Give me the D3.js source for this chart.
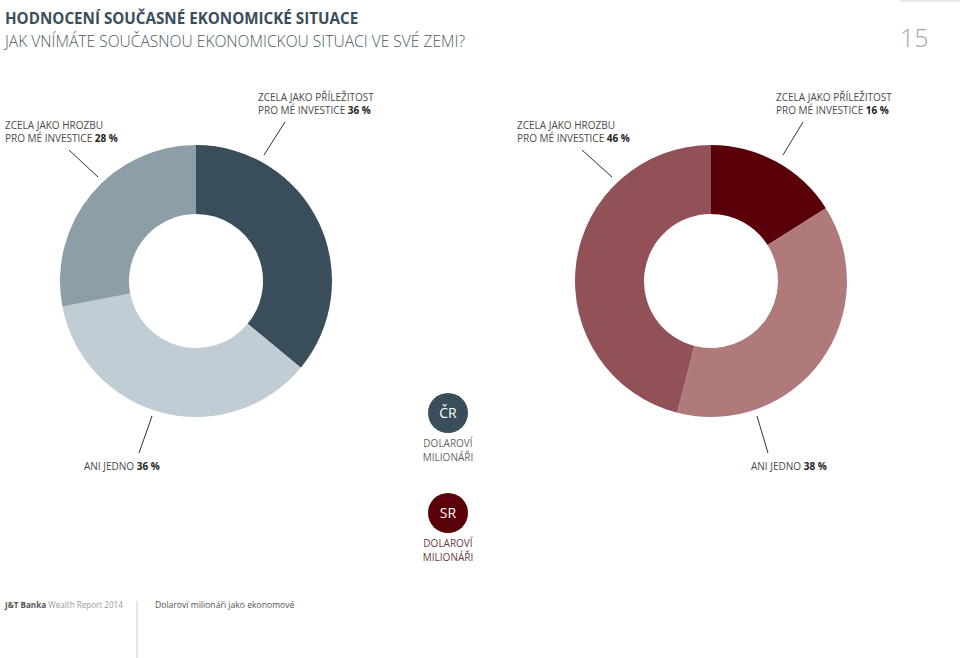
<!DOCTYPE html>
<html><head><meta charset="utf-8">
<script src="https://cdn.jsdelivr.net/npm/d3@7"></script>
<style>body{margin:0;background:#fff}svg{display:block}text{font-family:"Open Sans",sans-serif}</style>
</head><body><svg id="c" width="960" height="658"></svg>
<script>
const categories = ["ZCELA JAKO PŘÍLEŽITOST PRO MÉ INVESTICE", "ANI JEDNO", "ZCELA JAKO HROZBU PRO MÉ INVESTICE"];
const valuesCR = [36, 36, 28];
const valuesSR = [16, 38, 46];
const colorsCR = ["#3a4d5a", "#c0cdd5", "#8c9ea8"];
const colorsSR = ["#5a0009", "#b07a7a", "#925057"];

const svg = d3.select("#c");
svg.append("text").attr("x",5).attr("y",24).attr("font-size",15.2).attr("font-weight",700).attr("fill","#3a4d5a").text("HODNOCENÍ SOUČASNÉ EKONOMICKÉ SITUACE");
svg.append("text").attr("x",5).attr("y",47).attr("font-size",15.6).attr("font-weight",300).attr("fill","#4a5a66").text("JAK VNÍMÁTE SOUČASNOU EKONOMICKOU SITUACI VE SVÉ ZEMI?");
svg.append("line").attr("x1",900).attr("x2",960).attr("y1",1).attr("y2",1).attr("stroke","#ccc");
svg.append("text").attr("x",900).attr("y",47).attr("font-size",25).attr("font-weight",300).attr("fill","#9aa8b0").text("15");

const pie = d3.pie().sort(null).value(d=>d);
const arc = d3.arc().innerRadius(67).outerRadius(136);
function donut(cx, vals, cols){
  const g = svg.append("g").attr("transform",`translate(${cx},281)`);
  g.selectAll("path").data(pie(vals)).join("path").attr("d",arc).attr("fill",(d,i)=>cols[i]);
}
donut(196, valuesCR, colorsCR);
donut(711, valuesSR, colorsSR);

function label(x, y, lines, val, lx1, ly1, lx2, ly2){
  lines.forEach((l,i)=>{
    const t = svg.append("text").attr("x",x).attr("y",y+i*13).attr("font-size",10).attr("fill","#4a4a4a").text(l);
    if(i===lines.length-1) t.append("tspan").attr("font-weight",700).attr("fill","#222").text(" "+val+" %");
  });
  svg.append("line").attr("x1",lx1).attr("y1",ly1).attr("x2",lx2).attr("y2",ly2).attr("stroke","#333").attr("stroke-width",1);
}
label(258,101,["ZCELA JAKO PŘÍLEŽITOST","PRO MÉ INVESTICE"],valuesCR[0],285,122,264,155);
label(5,129,["ZCELA JAKO HROZBU","PRO MÉ INVESTICE"],valuesCR[2],69,150,98,177);
label(84,470,["ANI JEDNO"],valuesCR[1],152,416,139,453);
label(776,101,["ZCELA JAKO PŘÍLEŽITOST","PRO MÉ INVESTICE"],valuesSR[0],803,122,783,155);
label(517,129,["ZCELA JAKO HROZBU","PRO MÉ INVESTICE"],valuesSR[2],582,150,612,177);
label(751,470,["ANI JEDNO"],valuesSR[1],757,416,768,453);

function badge(cy, txt, col, tcol){
  svg.append("circle").attr("cx",448).attr("cy",cy).attr("r",20).attr("fill",col);
  svg.append("text").attr("x",448).attr("y",cy+5).attr("text-anchor","middle").attr("font-size",14).attr("fill","#fff").text(txt);
  svg.append("text").attr("x",448).attr("y",cy+34).attr("text-anchor","middle").attr("font-size",10).attr("fill",tcol).text("DOLAROVÍ");
  svg.append("text").attr("x",448).attr("y",cy+48).attr("text-anchor","middle").attr("font-size",10).attr("fill",tcol).text("MILIONÁŘI");
}
badge(413,"ČR","#3a4d5a","#666");
badge(513,"SR","#5a0009","#6a3a40");

const f = svg.append("text").attr("x",5).attr("y",608).attr("font-size",8.1).attr("fill","#999");
f.append("tspan").attr("font-weight",700).attr("fill","#555").text("J&T Banka");
f.append("tspan").text(" Wealth Report 2014");
svg.append("line").attr("x1",137).attr("x2",137).attr("y1",601).attr("y2",658).attr("stroke","#ccc");
svg.append("text").attr("x",155).attr("y",608).attr("font-size",8.6).attr("fill","#555").text("Dolaroví milionáři jako ekonomové");
</script></body></html>
